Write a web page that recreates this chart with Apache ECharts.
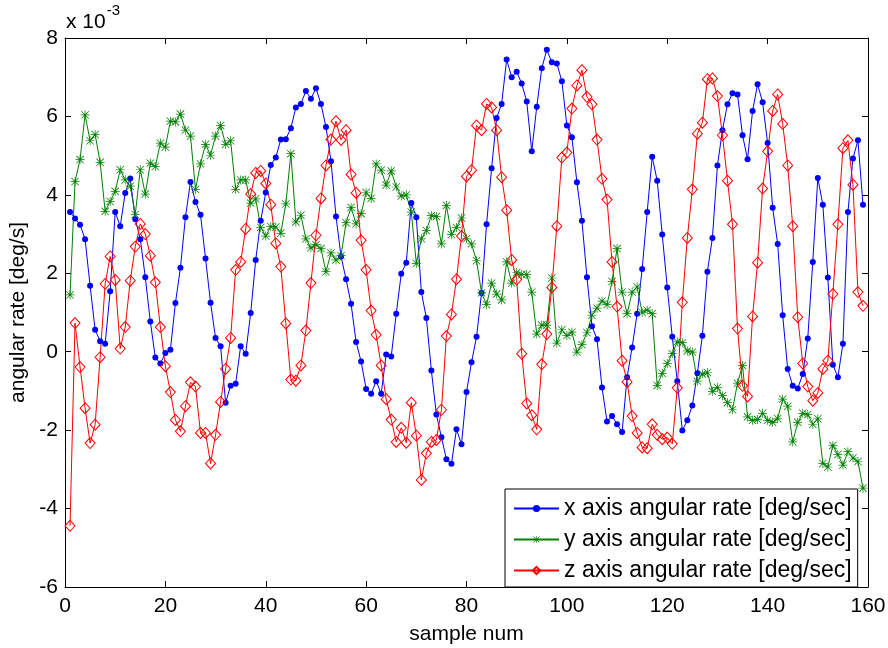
<!DOCTYPE html>
<html><head><meta charset="utf-8">
<script src="https://cdn.jsdelivr.net/npm/echarts@6/dist/echarts.min.js"></script>
<style>html,body{margin:0;padding:0;background:#fff}#c{width:888px;height:648px}</style>
</head><body><div id="c"></div>
<script>
var xAxisTicks = [0,20,40,60,80,100,120,140,160];
var yAxisTicks = [-6,-4,-2,0,2,4,6,8];
var seriesNames = ['x axis angular rate [deg/sec]','y axis angular rate [deg/sec]','z axis angular rate [deg/sec]'];
var xRate = [3.56,3.40,3.24,2.87,1.68,0.56,0.27,0.20,1.54,3.56,3.20,4.05,4.42,3.38,2.87,1.90,0.77,-0.15,-0.30,-0.03,
0.05,1.24,2.14,3.43,4.33,3.82,3.49,2.38,1.25,0.35,0.14,-1.30,-0.87,-0.82,0.14,-0.05,0.99,2.34,3.34,4.06,
4.76,4.95,5.41,5.42,5.70,6.23,6.32,6.65,6.45,6.72,6.32,5.73,4.86,3.45,2.43,1.85,1.22,0.25,-0.25,-0.95,
-1.07,-0.75,-1.07,-0.07,-0.12,0.97,1.99,2.27,3.79,3.43,1.52,0.86,-0.48,-1.60,-2.18,-2.74,-2.86,-1.98,-2.36,-1.03,
-0.27,0.38,1.50,3.25,4.68,5.96,6.32,7.45,7.00,7.14,6.84,6.38,5.11,6.25,7.23,7.70,7.38,7.35,6.90,5.77,
5.47,4.32,3.34,1.90,0.65,0.32,-0.91,-1.78,-1.64,-1.85,-2.05,-0.65,0.11,0.97,2.11,3.56,4.97,4.36,2.99,1.64,
0.38,-0.75,-2.01,-1.75,-1.37,-0.55,0.41,2.04,2.90,4.75,5.65,6.31,6.59,6.56,5.52,4.91,6.14,6.82,6.36,5.32,
3.67,2.75,0.93,-0.44,-0.87,-0.94,-0.57,0.34,2.29,4.43,3.75,1.89,-0.33,-0.65,0.20,3.56,4.93,5.39,3.75];
var yRate = [1.45,4.34,4.90,6.04,5.38,5.54,4.83,3.58,3.83,4.09,4.64,4.38,4.22,3.50,4.64,4.02,4.81,4.72,5.32,5.22,
5.88,5.86,6.06,5.65,5.50,4.14,4.79,5.29,5.01,5.50,5.77,5.29,5.38,4.14,4.38,4.38,3.79,3.90,3.17,2.95,
3.19,3.18,3.02,3.77,5.05,3.31,3.48,2.88,2.65,2.73,2.63,2.04,2.52,2.34,2.45,3.29,3.68,3.26,3.52,4.06,
3.91,4.79,4.63,4.25,4.61,4.20,3.97,4.00,3.56,2.25,2.88,3.09,3.47,3.45,2.75,3.73,2.99,3.17,3.41,2.88,
2.75,2.32,1.50,1.20,1.75,1.47,1.32,2.29,1.75,2.02,1.97,1.97,1.52,0.45,0.68,0.68,1.88,0.22,0.56,0.41,
0.50,-0.01,0.18,0.49,0.93,1.11,1.29,1.20,1.79,2.63,1.52,0.97,1.52,1.65,1.00,1.06,0.97,-0.86,-0.55,-0.30,
-0.05,0.25,0.23,0.02,-0.01,-0.75,-0.57,-0.53,-1.01,-0.91,-1.12,-1.30,-1.48,-0.80,-0.35,-1.66,-1.75,-1.73,-1.57,-1.75,
-1.80,-1.71,-1.21,-1.39,-2.30,-1.80,-1.57,-1.60,-1.85,-1.71,-2.85,-2.94,-2.39,-2.62,-2.89,-2.55,-2.71,-2.80,-3.48];
var zRate = [-4.44,0.73,-0.39,-1.44,-2.33,-1.86,-0.14,1.73,2.43,1.83,0.08,0.63,1.81,2.68,3.26,3.00,2.45,1.77,0.63,-0.37,
-1.03,-1.74,-2.03,-1.39,-0.78,-0.89,-2.07,-2.07,-2.85,-2.12,-1.28,-0.44,0.35,2.09,2.29,3.13,4.02,4.56,4.61,4.29,
3.75,2.76,2.17,0.72,-0.71,-0.74,-0.35,0.54,1.75,2.97,3.91,4.75,5.41,5.88,5.40,5.65,4.52,4.05,2.84,2.09,
1.05,0.43,-0.35,-1.21,-1.73,-2.30,-1.94,-2.32,-1.30,-2.14,-3.27,-2.59,-2.30,-2.25,-1.48,0.40,0.95,1.85,2.95,4.47,
4.63,5.77,5.65,6.32,6.23,5.65,4.45,3.61,2.34,1.84,-0.05,-1.32,-1.62,-1.98,-0.32,0.45,1.64,3.20,4.95,5.08,
6.20,6.79,7.18,6.50,6.31,5.41,4.41,3.88,2.29,1.15,-0.23,-0.77,-1.64,-2.07,-2.44,-2.46,-1.85,-2.12,-2.23,-2.19,
-2.35,-0.92,1.26,2.90,4.14,5.56,5.84,6.95,6.97,6.52,5.52,4.36,3.25,0.59,-0.87,-1.14,0.90,2.27,4.16,5.11,
6.14,6.56,5.81,4.75,3.20,0.88,-0.30,-0.89,-1.25,-1.05,-0.44,-0.23,1.47,3.25,5.19,5.39,4.26,1.52,1.17];

var asterisk = 'path://M4.6 0L5.4 0L5.4 10L4.6 10Z M0 4.6L10 4.6L10 5.4L0 5.4Z M1.2 0.6L9.4 8.8L8.8 9.4L0.6 1.2Z M8.8 0.6L9.4 1.2L1.2 9.4L0.6 8.8Z';
function pairs(arr){ return arr.map(function(v,i){ return [i+1, v]; }); }
var FONT = 'Liberation Sans, Arial, sans-serif';
var chart = echarts.init(document.getElementById('c'), null, {renderer:'canvas'});
var axisCommon = {
  min: 0, max: 160, interval: 20,
  axisLine: {onZero:false, lineStyle:{color:'#000', width:1}},
  axisTick: {inside:true, length:6, lineStyle:{color:'#000'}},
  splitLine: {show:false}
};
chart.setOption({
  animation: false,
  backgroundColor: '#fff',
  grid: {left:65, top:38, width:803, height:549, containLabel:false, outerBoundsMode:'none'},
  xAxis: [
    Object.assign({}, axisCommon, {type:'value', position:'bottom',
      name:'sample num', nameLocation:'middle', nameGap:37,
      nameTextStyle:{fontFamily:FONT, fontSize:21, color:'#000'},
      axisLabel:{fontFamily:FONT, fontSize:21, color:'#000', margin:9}}),
    Object.assign({}, axisCommon, {type:'value', position:'top', axisLabel:{show:false}})
  ],
  yAxis: [
    {type:'value', min:-6, max:8, interval:2, position:'left',
      axisLine:{onZero:false, lineStyle:{color:'#000'}},
      axisTick:{inside:true, length:6, lineStyle:{color:'#000'}},
      splitLine:{show:false},
      name:'angular rate [deg/s]', nameLocation:'middle', nameGap:30, nameRotate:90,
      nameTextStyle:{fontFamily:FONT, fontSize:21, color:'#000'},
      axisLabel:{fontFamily:FONT, fontSize:21, color:'#000', margin:7}},
    {type:'value', min:-6, max:8, interval:2, position:'right',
      axisLine:{onZero:false, lineStyle:{color:'#000'}},
      axisTick:{inside:true, length:6, lineStyle:{color:'#000'}},
      splitLine:{show:false}, axisLabel:{show:false}}
  ],
  legend: {
    orient:'vertical', left:505, top:489,
    backgroundColor:'#fff', borderColor:'#000', borderWidth:1,
    padding:[8,6,5,8], itemGap:8, itemWidth:45, itemHeight:9,
    textStyle:{fontFamily:FONT, fontSize:23, lineHeight:23, color:'#000'},
    data: seriesNames
  },
  graphic: [{
    type:'text', left:66, top:3,
    style:{text:'{a|x 10}{b|-3}', fontFamily:FONT, fill:'#000',
      rich:{a:{fontSize:21, fontFamily:FONT, padding:[9,0,0,0]}, b:{fontSize:15, fontFamily:FONT, verticalAlign:'top', padding:[0,0,10,1]}}}
  }],
  series: [
    {name:seriesNames[0], type:'line', data:pairs(xRate), symbol:'circle', symbolSize:6,
      lineStyle:{color:'#0000ff', width:1}, itemStyle:{color:'#0000ff'}},
    {name:seriesNames[1], type:'line', data:pairs(yRate), symbol:asterisk, symbolSize:9,
      lineStyle:{color:'#008000', width:1}, itemStyle:{color:'#008000'}},
    {name:seriesNames[2], type:'line', data:pairs(zRate), symbol:'diamond', symbolSize:[10,11],
      lineStyle:{color:'#ff0000', width:1}, itemStyle:{color:'rgba(255,255,255,0)', borderColor:'#ff0000', borderWidth:1}}
  ]
});
</script></body></html>
